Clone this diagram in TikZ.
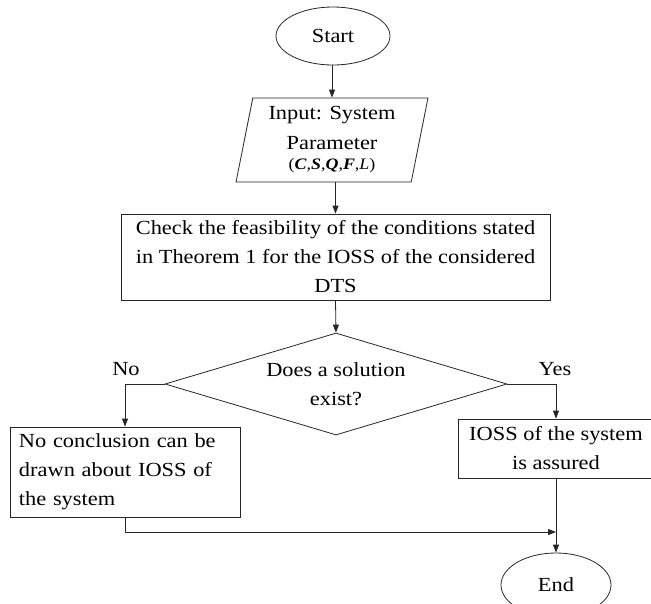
\documentclass[tikz,border=0pt]{standalone}
\usepackage{fontspec}
\setmainfont[FakeStretch=1.12]{Liberation Serif}
\usetikzlibrary{shapes.geometric,arrows.meta}
\begin{document}
\begin{tikzpicture}[x=1pt,y=-1pt,
  every node/.style={font=\fontsize{20}{29}\selectfont, inner sep=0pt},
  line/.style={draw=black!85, line width=0.8pt},
  arr/.style={line, -{Triangle[length=8pt,width=6pt]}},
  term/.style={ellipse, line, align=center},
  procbox/.style={rectangle, line, align=center},
  io/.style={trapezium, line, align=center, trapezium stretches=true,
     trapezium left angle=78.6, trapezium right angle=101.4},
  decide/.style={diamond, line, align=center},
  lbl/.style={}]
\useasboundingbox (0,0) rectangle (651,603);
\node[term, minimum width=114pt, minimum height=58pt] (start) at (333,36) {Start};
\node[io, minimum width=192pt, minimum height=84pt] (input) at (332,140)
  {Input: System\\[1pt]Parameter\\[-9pt]{\fontsize{16}{18}\selectfont(\textbf{\textit{C}},\textbf{\textit{S}},\textbf{\textit{Q}},\textbf{\textit{F}},\textit{L})}};
\node[procbox, minimum width=429pt, minimum height=86pt] (check) at (335.5,257)
  {Check the feasibility of the conditions stated\\in Theorem 1 for the IOSS of the considered\\DTS};
\node[decide, minimum width=342pt, minimum height=102pt, aspect=3.35] (dec) at (336,384)
  {Does a solution\\exist?};
\node[procbox, align=left, minimum width=230pt, minimum height=90pt, text width=212pt] (nobox) at (125,472)
  {No conclusion can be\\drawn about IOSS of\\the system};
\node[procbox, minimum width=196pt, minimum height=59pt] (yesbox) at (556,448.5)
  {IOSS of the system\\is assured};
\node[term, minimum width=110pt, minimum height=64pt] (end) at (556,585) {End};
\coordinate (merge) at (556,532);
\node[lbl] (nolbl) at (126,369) {No};
\node[lbl] (yeslbl) at (555,369) {Yes};
\draw[arr] (start.south) -- (input.south |- start.south) -- (input.north);
\draw[arr] (input.south -| check.north) -- (check.north);
\draw[arr] (check.south) -- (dec.north);
\draw[arr] (dec.west) -| (nobox.north);
\draw[arr] (dec.east) -| (yesbox.north);
\draw[arr] (yesbox.south) -- (end.north);
\draw[arr] (nobox.south) |- (merge);
\end{tikzpicture}
\end{document}
